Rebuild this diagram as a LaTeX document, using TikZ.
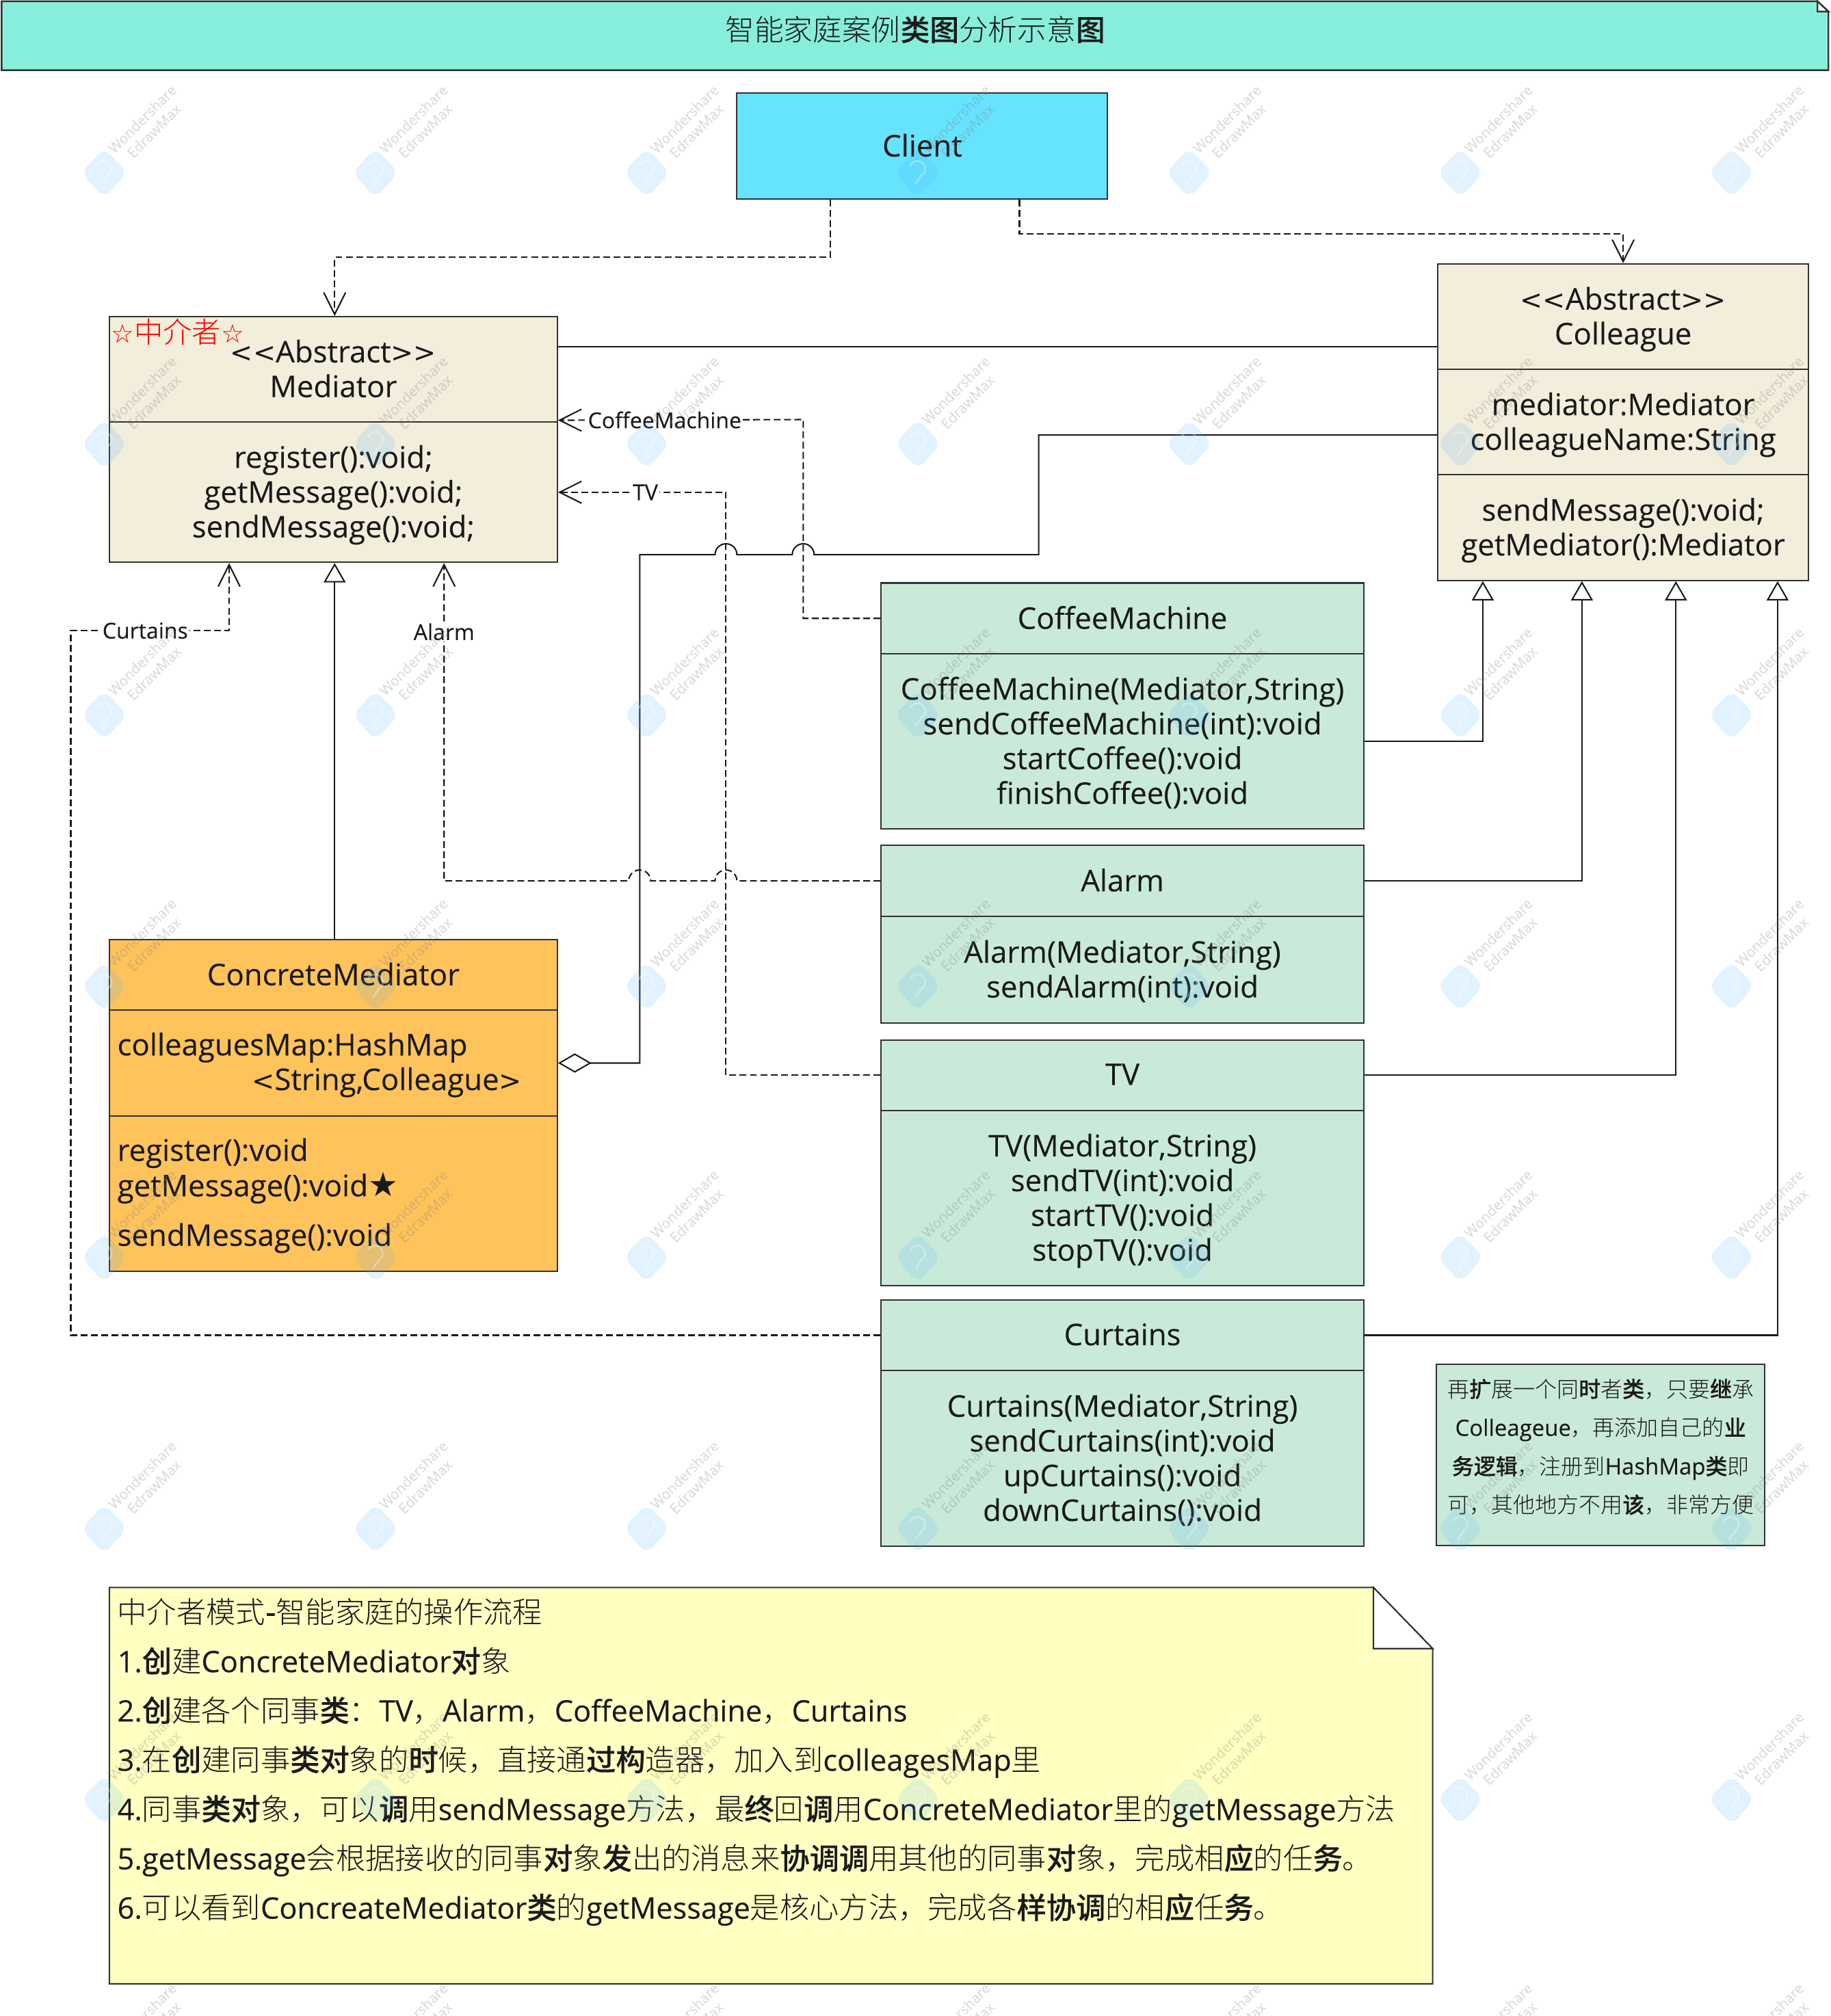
\documentclass[tikz,border=0pt]{standalone}
\usepackage{fontspec}
\usetikzlibrary{arrows.meta}
\setmainfont{Open Sans}[FakeBold=0.12]
\newfontfamily\cjklight{Noto Sans CJK SC Light}
\newfontfamily\cjkbold{Noto Sans CJK SC Medium}[FakeBold=0.15]
\newfontfamily\symfont{DejaVu Sans}
\newcommand{\zh}[1]{{\cjklight #1}}
\newcommand{\zb}[1]{{\cjkbold #1}}
\newcommand{\angl}{{\symfont\fontsize{21}{27}\selectfont <}}
\newcommand{\angr}{{\symfont\fontsize{21}{27}\selectfont >}}
\definecolor{titlefill}{HTML}{87EEDC}
\definecolor{clientfill}{HTML}{66E3FF}
\definecolor{absfill}{HTML}{F3EEDC}
\definecolor{colfill}{HTML}{C9EAD9}
\definecolor{medfill}{HTML}{FFC35B}
\definecolor{notefill}{HTML}{FFFFC2}
\definecolor{edgegray}{HTML}{333333}
\definecolor{inkgray}{HTML}{1A1A1A}
\definecolor{markblue}{HTML}{3FA9FF}
\begin{document}
\begin{tikzpicture}[x=1pt,y=1pt]
\tikzstyle{boxpart}=[draw=edgegray,line width=1.1pt,inner sep=0pt,text=inkgray,align=center]
\tikzstyle{classpart}=[boxpart,font=\fontsize{23.25}{27}\selectfont,text depth=1.5pt]
\tikzstyle{abspart}=[classpart,fill=absfill]
\tikzstyle{colpart}=[classpart,fill=colfill]
\tikzstyle{medpart}=[classpart,fill=medfill]
\tikzstyle{cmtext}=[anchor=west,inner sep=0pt,text=inkgray,font=\fontsize{23.25}{27}\selectfont]
\tikzstyle{assoc}=[draw=inkgray,line width=1.1pt]
\tikzstyle{depend}=[assoc,dash pattern=on 5.3pt off 2.7pt,-{Straight Barb[length=17pt,width=17pt]}]
\tikzstyle{inherit}=[assoc,-{Triangle[open,length=15pt,width=17pt,fill=white]}]
\tikzstyle{edgelabel}=[fill=white,inner sep=1pt,text=inkgray,font=\fontsize{17}{20}\selectfont]
\path[use as bounding box,clip] (0,0) rectangle (1422,-1566.5);

% title and client
\draw[draw=edgegray,line width=1.3pt,fill=titlefill] (1.3,-1) -- (1412,-1) -- (1420.5,-9) -- (1420.5,-54.5) -- (1.3,-54.5) -- cycle;
\draw[draw=edgegray,line width=1.3pt,fill=white] (1412,-1) -- (1420.5,-9) -- (1412,-9) -- cycle;
\path (711,-23) node[inner sep=0pt,text=inkgray,font=\fontsize{22.7}{27}\selectfont](title){\zh{智能家庭案例}\zb{类图}\zh{分析示意}\zb{图}};
\path (716.5,-113.5) node[classpart,fill=clientfill,minimum width=288,minimum height=82](client){Client};

% mediator
\path (259,-287) node[abspart,minimum width=348,minimum height=82](medhead){\angl\angl Abstract\angr\angr\\Mediator};
\path (259,-382.5) node[abspart,minimum width=348,minimum height=109](medbody){register():void;\\getMessage():void;\\sendMessage():void;};
\path (138,-258) node[inner sep=0pt,text=red,font=\fontsize{22.5}{26}\selectfont](medmark){{\symfont\fontsize{20}{26}\selectfont ☆}\zh{中介者}{\symfont\fontsize{20}{26}\selectfont ☆}};

% colleague
\path (1261,-246) node[abspart,minimum width=288,minimum height=82](collhead){\angl\angl Abstract\angr\angr\\Colleague};
\path (1261,-328) node[abspart,minimum width=288,minimum height=82](collattr){mediator:Mediator\\colleagueName:String};
\path (1261,-410) node[abspart,minimum width=288,minimum height=82](collmeth){sendMessage():void;\\getMediator():Mediator};

% concrete mediator
\path (259,-757.5) node[medpart,minimum width=348,minimum height=55](cmhead){ConcreteMediator};
\path (259,-826) node[medpart,minimum width=348,minimum height=82](cmattr){};
\path (91,-814) node[cmtext](cmmap){colleaguesMap:HashMap};
\path (405.5,-841) node[cmtext,anchor=east](cmkey){\angl String,Colleague\angr};
\path (259,-927.5) node[medpart,minimum width=348,minimum height=121](cmmeth){};
\path (91,-896) node[cmtext](cmreg){register():void};
\path (91,-923) node[cmtext](cmget){getMessage():void{\symfont\fontsize{26}{27}\selectfont ★}};
\path (91,-962) node[cmtext](cmsend){sendMessage():void};

% concrete colleagues
\path (872,-480.5) node[colpart,minimum width=375,minimum height=55](coffhead){CoffeeMachine};
\path (872,-576) node[colpart,minimum width=375,minimum height=136](coffbody){CoffeeMachine(Mediator,String)\\sendCoffeeMachine(int):void\\startCoffee():void\\finishCoffee():void};
\path (872,-684.5) node[colpart,minimum width=375,minimum height=55](alarmhead){Alarm};
\path (872,-753.5) node[colpart,minimum width=375,minimum height=83](alarmbody){Alarm(Mediator,String)\\sendAlarm(int):void};
\path (872,-835.5) node[colpart,minimum width=375,minimum height=55](tvhead){TV};
\path (872,-931) node[colpart,minimum width=375,minimum height=136](tvbody){TV(Mediator,String)\\sendTV(int):void\\startTV():void\\stopTV():void};
\path (872,-1037.5) node[colpart,minimum width=375,minimum height=55](curthead){Curtains};
\path (872,-1133.25) node[colpart,minimum width=375,minimum height=136.5](curtbody){Curtains(Mediator,String)\\sendCurtains(int):void\\upCurtains():void\\downCurtains():void};

% side note
\path (1243.5,-1130.5) node[boxpart,fill=colfill,minimum width=255,minimum height=141,font=\fontsize{17}{30}\selectfont](sidenote){\zh{再}\zb{扩}\zh{展一个同}\zb{时}\zh{者}\zb{类}\zh{，只要}\zb{继}\zh{承}\\{\fontsize{17.5}{30}\selectfont Colleageue}\zh{，再添加自己的}\zb{业}\\\zb{务逻辑}\zh{，注册到}{\fontsize{17.5}{30}\selectfont HashMap}\zb{类}\zh{即}\\\zh{可，其他地方不用}\zb{该}\zh{，非常方便}\rule[-14pt]{0pt}{14pt}};

% flow note
\draw[draw=edgegray,line width=1.1pt,fill=notefill] (85,-1233.5) -- (1067,-1233.5) -- (1113,-1281) -- (1113,-1541.5) -- (85,-1541.5) -- cycle;
\draw[draw=edgegray,line width=1.1pt,fill=white] (1067,-1233.5) -- (1113,-1281) -- (1067,-1281) -- cycle;
\path (91,-1241.5) node[anchor=north west,inner sep=0pt,text width=1010,align=left,text=inkgray,font=\fontsize{23}{38.3}\selectfont](flownote){\zh{中介者模式}\zb{-}\zh{智能家庭的操作流程}\\
1.\zb{创}\zh{建}ConcreteMediator\zb{对}\zh{象}\\
2.\zb{创}\zh{建各个同事}\zb{类}\zh{：}TV\zh{，}Alarm\zh{，}CoffeeMachine\zh{，}Curtains\\
3.\zh{在}\zb{创}\zh{建同事}\zb{类对}\zh{象的}\zb{时}\zh{候，直接通}\zb{过构}\zh{造器，加入到}colleagesMap\zh{里}\\
4.\zh{同事}\zb{类对}\zh{象，可以}\zb{调}\zh{用}sendMessage\zh{方法，最}\zb{终}\zh{回}\zb{调}\zh{用}ConcreteMediator\zh{里的}getMessage\zh{方法}\\
5.getMessage\zh{会根据接收的同事}\zb{对}\zh{象}\zb{发}\zh{出的消息来}\zb{协调调}\zh{用其他的同事}\zb{对}\zh{象，完成相}\zb{应}\zh{的任}\zb{务}\zh{。}\\
6.\zh{可以看到}ConcreateMediator\zb{类}\zh{的}getMessage\zh{是核心方法，完成各}\zb{样协调}\zh{的相}\zb{应}\zh{任}\zb{务}\zh{。}};

% connectors
\draw[depend] ([xshift=-71.5]client.south) -- (645,-200) -- (260,-200) -- ([xshift=1]medhead.north);
\draw[depend] ([xshift=75.5]client.south) -- (792,-181.5) -- (1261,-181.5) -- (collhead.north);
\draw[assoc] ([yshift=17.5]medhead.east) -- ([yshift=-23.5]collhead.west);
\draw[assoc,-{Diamond[open,length=26pt,width=15pt,fill=white]}] ([yshift=-10]collattr.west) -- (807,-338) -- (807,-431) -- (632.5,-431) arc (0:180:8.5) -- (572.5,-431) arc (0:180:8.5) -- (497,-431) -- (497,-826) -- (cmattr.east);
\draw[depend] (coffhead.west) -- (624,-480.5) -- (624,-326) -- node[edgelabel,pos=0.565](lblcoffee){CoffeeMachine} ([yshift=2]medhead.south east);
\draw[depend] (tvhead.west) -- (564,-835.5) -- (564,-382.5) -- node[edgelabel,pos=0.48](lbltv){TV} (medbody.east);
\draw[depend] (alarmhead.west) -- (572.5,-684.5) arc (0:180:8.5) -- (505.5,-684.5) arc (0:180:8.5) -- (345,-684.5) -- node[edgelabel,pos=0.784](lblalarm){Alarm} ([xshift=86]medbody.south);
\draw[depend] (curthead.west) -- (55,-1037.5) -- (55,-490) -- node[edgelabel,pos=0.47](lblcurt){Curtains} (178,-490) -- ([xshift=-81]medbody.south);
\draw[inherit] ([xshift=1]cmhead.north) -- ([xshift=1]medbody.south);
\draw[inherit] (coffbody.east) -| ([xshift=-109]collmeth.south);
\draw[inherit] (alarmhead.east) -| ([xshift=-32]collmeth.south);
\draw[inherit] (tvhead.east) -| ([xshift=41]collmeth.south);
\draw[inherit] (curthead.east) -| ([xshift=120]collmeth.south);

% watermark
\foreach \i in {0,...,6}
  \foreach \j in {0,...,7} {
    \fill[markblue,opacity=0.15,rounded corners=7pt] (81+210.7*\i,-115-210.7*\j) -- (99+210.7*\i,-134-210.7*\j) -- (81+210.7*\i,-154-210.7*\j) -- (63+210.7*\i,-134-210.7*\j) -- cycle;
    \draw[white,opacity=0.3,line width=1.5pt] (75+210.7*\i,-129-210.7*\j) arc (160:-60:6) -- (79+210.7*\i,-143-210.7*\j);
    \path (115+210.7*\i,-97-210.7*\j) node[rotate=45,inner sep=0pt,opacity=0.25,text=gray,align=center,font=\fontsize{11}{13}\selectfont](mark\i\j){Wondershare\\EdrawMax};
  }
\end{tikzpicture}
\end{document}
